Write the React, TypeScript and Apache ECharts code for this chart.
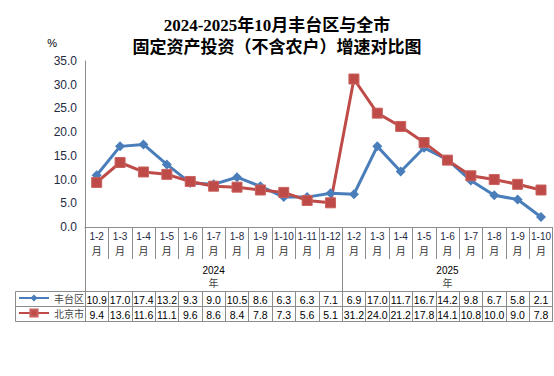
import React, { useEffect, useRef } from 'react';
import * as echarts from 'echarts';

const categories = ['1-2', '1-3', '1-4', '1-5', '1-6', '1-7', '1-8', '1-9', '1-10', '1-11', '1-12', '1-2', '1-3', '1-4', '1-5', '1-6', '1-7', '1-8', '1-9', '1-10'];
const years = ['2024', '2025'];
const yearCounts = [11, 9];
const seriesNames = ['丰台区', '北京市'];
const fengtai = [10.9, 17.0, 17.4, 13.2, 9.3, 9.0, 10.5, 8.6, 6.3, 6.3, 7.1, 6.9, 17.0, 11.7, 16.7, 14.2, 9.8, 6.7, 5.8, 2.1];
const beijing = [9.4, 13.6, 11.6, 11.1, 9.6, 8.6, 8.4, 7.8, 7.3, 5.6, 5.1, 31.2, 24.0, 21.2, 17.8, 14.1, 10.8, 10.0, 9.0, 7.8];
const titleLines = ['2024-2025年10月丰台区与全市', '固定资产投资（不含农户）增速对比图'];

const BLUE = '#4A7EBB';
const RED = '#BE4B48';
const GRID = '#8C8C8C';

// year axis labels: label at middle of each year group, group boundaries as ticks
const yearLabels: string[] = [];
const yearStarts: number[] = [];
years.forEach((y, gi) => {
  const start = yearLabels.length;
  yearStarts.push(start);
  const n = yearCounts[gi];
  const mid = start + Math.floor(n / 2);
  for (let i = 0; i < n; i++) yearLabels.push(start + i === mid ? y : '');
});

export default function App() {
  const ref = useRef<HTMLDivElement>(null);
  useEffect(() => {
    if (!ref.current) return;
    const chart = echarts.init(ref.current, null, { renderer: 'svg' });
    const left = 85;
    const bottomY = 227;
    const tableTop = 291;
    const rowH = 15;
    const numFont = 'Liberation Sans, Arial, sans-serif';
    chart.setOption({
      animation: false,
      backgroundColor: '#fff',
      title: {
        text: titleLines.join('\n'),
        left: 'center',
        top: 9,
        textStyle: {
          fontFamily: 'Liberation Serif, Noto Sans CJK SC, serif',
          fontSize: 17,
          fontWeight: 'bold',
          lineHeight: 22,
          color: '#000',
        },
      },
      grid: { left, right: 1, top: 61, bottom: 376 - bottomY },
      legend: [0, 1].map((i) => ({
        data: [seriesNames[i]],
        left: 18,
        top: tableTop + 2 + i * rowH,
        padding: 0,
        itemWidth: 30,
        itemHeight: 9,
        selectedMode: false,
        textStyle: { fontSize: 10, color: '#444', fontFamily: 'Noto Sans CJK SC' },
      })),
      xAxis: [
        {
          type: 'category',
          data: categories,
          axisLine: { lineStyle: { color: GRID, width: 1 } },
          axisTick: { show: true, length: 32, interval: 0, lineStyle: { color: GRID } },
          axisLabel: {
            interval: 0,
            margin: 2,
            fontSize: 10,
            lineHeight: 14,
            color: '#1F2A44',
            fontFamily: numFont,
            formatter: (v: string) => v + '\n{m|月}',
            rich: { m: { fontSize: 10, color: '#333', fontFamily: 'Noto Sans CJK SC', lineHeight: 14 } },
          },
        },
        {
          type: 'category',
          data: yearLabels,
          position: 'bottom',
          offset: 0,
          axisLine: { show: false },
          axisTick: {
            show: true,
            length: tableTop - bottomY,
            interval: (idx: number) => yearStarts.indexOf(idx) >= 0,
            lineStyle: { color: GRID },
          },
          axisLabel: {
            interval: 0,
            margin: 37,
            fontSize: 10,
            lineHeight: 12,
            color: '#000',
            fontFamily: numFont,
            formatter: (v: string) => (v ? v + '\n{m|年}' : ''),
            rich: { m: { fontSize: 10, color: '#444', fontFamily: 'Noto Sans CJK SC', lineHeight: 12 } },
          },
        },
        ...[fengtai, beijing].map((arr, i) => ({
          type: 'category',
          data: arr.map((v) => v.toFixed(1)),
          position: 'bottom',
          offset: tableTop - bottomY + i * rowH,
          axisLine: { show: true, lineStyle: { color: GRID } },
          axisTick: { show: true, length: rowH, interval: 0, lineStyle: { color: GRID } },
          axisLabel: { interval: 0, margin: 3, fontSize: 10.5, color: '#000', fontFamily: numFont },
        })),
        {
          type: 'category',
          data: categories,
          position: 'bottom',
          offset: tableTop - bottomY + 2 * rowH,
          axisLine: { show: true, lineStyle: { color: GRID } },
          axisTick: { show: false },
          axisLabel: { show: false },
        },
      ],
      yAxis: {
        type: 'value',
        min: 0,
        max: 35,
        interval: 5,
        name: '%',
        nameGap: 13,
        nameTextStyle: { align: 'right', padding: [0, 28, 0, 0], fontSize: 11, color: '#000', fontFamily: numFont },
        axisLine: { show: true, lineStyle: { color: GRID } },
        axisTick: { show: false },
        splitLine: { show: false },
        axisLabel: {
          margin: 8,
          fontSize: 12,
          color: '#1F2A44',
          fontFamily: numFont,
          formatter: (v: number) => v.toFixed(1),
        },
      },
      graphic: [
        ...[0, 1, 2].map((i) => ({
          type: 'line',
          shape: { x1: 15.5, y1: tableTop + 0.5 + i * rowH, x2: left, y2: tableTop + 0.5 + i * rowH },
          style: { stroke: GRID, lineWidth: 1 },
        })),
        {
          type: 'line',
          shape: { x1: 15.5, y1: tableTop + 0.5, x2: 15.5, y2: tableTop + 0.5 + 2 * rowH },
          style: { stroke: GRID, lineWidth: 1 },
        },
      ],
      series: [
        {
          name: seriesNames[0],
          type: 'line',
          data: fengtai,
          symbol: 'diamond',
          symbolSize: 10,
          lineStyle: { color: BLUE, width: 3 },
          itemStyle: { color: BLUE },
        },
        {
          name: seriesNames[1],
          type: 'line',
          data: beijing,
          symbol: 'rect',
          symbolSize: 10,
          lineStyle: { color: RED, width: 3 },
          itemStyle: { color: RED, borderColor: '#C9625F', borderWidth: 1 },
        },
      ],
    });
    return () => chart.dispose();
  }, []);
  return <div ref={ref} style={{ position: 'absolute', left: 0, top: 0, width: 554, height: 376 }} />;
}
